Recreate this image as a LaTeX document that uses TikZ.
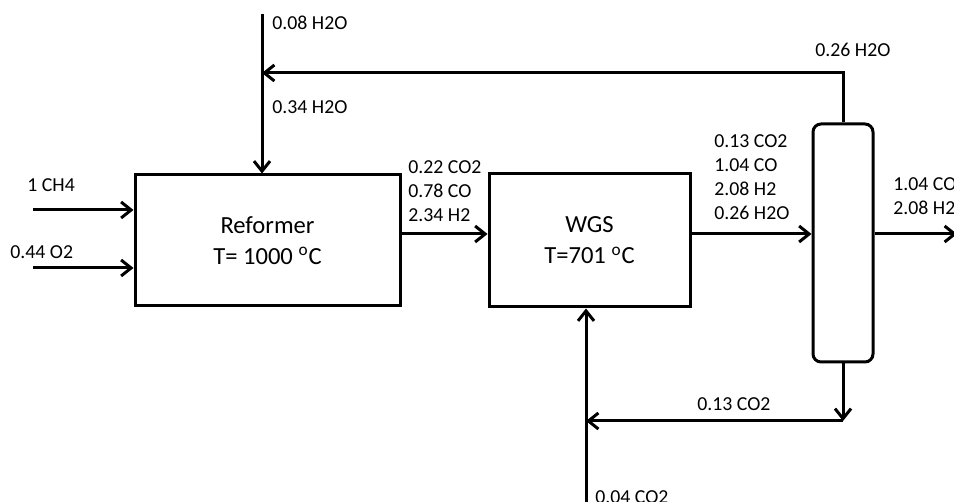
\documentclass[tikz,border=0pt]{standalone}
\usepackage{fontspec}
\setmainfont{Carlito}
\usetikzlibrary{arrows.meta}
\tikzset{
	>={Straight Barb[length=5pt,width=8pt]},
}

\begin{document}
\begin{tikzpicture}[
    x=0.5pt,
    y=-0.5pt,
    flow/.style={draw, ->, line width=1.5pt},
    unit/.style={draw, line width=1.5pt, align=center, inner sep=0pt,
        font=\fontsize{12.3}{15.5}\selectfont},
    lbl/.style={anchor=west, align=left, inner sep=0pt,
        font=\fontsize{9.9}{12}\selectfont}
]
\useasboundingbox (0,0) rectangle (954,502);

% --- Units ---
\node[unit, minimum width=132.5pt, minimum height=65.5pt] (ref) at (267.5,240.5) {Reformer\\T= 1000 \textsuperscript{o}C};
\node[unit, minimum width=100.5pt, minimum height=66.5pt] (wgs) at (589.5,240.5) {WGS\\T=701 \textsuperscript{o}C};
\node[unit, rounded corners=4pt, minimum width=30pt, minimum height=119pt] (col) at (843,243) {};

% --- Stream ends ---
\coordinate (main) at (0,234);
\coordinate (top) at (0,73);
\coordinate (bot) at (0,421);
\coordinate (ch4) at (33,210);
\coordinate (o2) at (33,268);
\coordinate (h2o) at (262,14);
\coordinate (co2) at (586,504);
\coordinate (prod) at (957,234);

% --- Feeds ---
\draw[flow] (ch4) -- (ch4 -| ref.west);
\draw[flow] (o2) -- (o2 -| ref.west);
\draw[flow] (h2o) -- (h2o |- ref.north);
\draw[flow] (co2) -- (co2 |- wgs.south);

% --- Main line ---
\draw[flow] (ref.east |- main) -- (wgs.west |- main);
\draw[flow] (wgs.east |- main) -- (col.west |- main);
\draw[flow] (col.east |- main) -- (prod);

% --- Recycles ---
\draw[flow] (col.north) -- (col.north |- top) -- (h2o |- top);
\draw[flow] (col.south) -- (col.south |- bot);
\draw[flow] (col.south |- bot) -- (co2 |- bot);

% --- Labels ---
\node[lbl] (lh2oa) at (272,23) {0.08 H2O};
\node[lbl] (lh2ob) at (272,107) {0.34 H2O};
\node[lbl] (lh2oc) at (815,50) {0.26 H2O};
\node[lbl] (lch4) at (27,185) {1 CH4};
\node[lbl] (lo2) at (10,252) {0.44 O2};
\node[lbl] (lref) at (408,191) {0.22 CO2\\0.78 CO\\2.34 H2};
\node[lbl] (lwgs) at (714,177.5) {0.13 CO2\\1.04 CO\\2.08 H2\\0.26 H2O};
\node[lbl] (lprod) at (893,196) {1.04 CO\\2.08 H2};
\node[lbl] (lco2a) at (697,404) {0.13 CO2};
\node[lbl] (lco2b) at (595,497) {0.04 CO2};
\end{tikzpicture}
\end{document}
